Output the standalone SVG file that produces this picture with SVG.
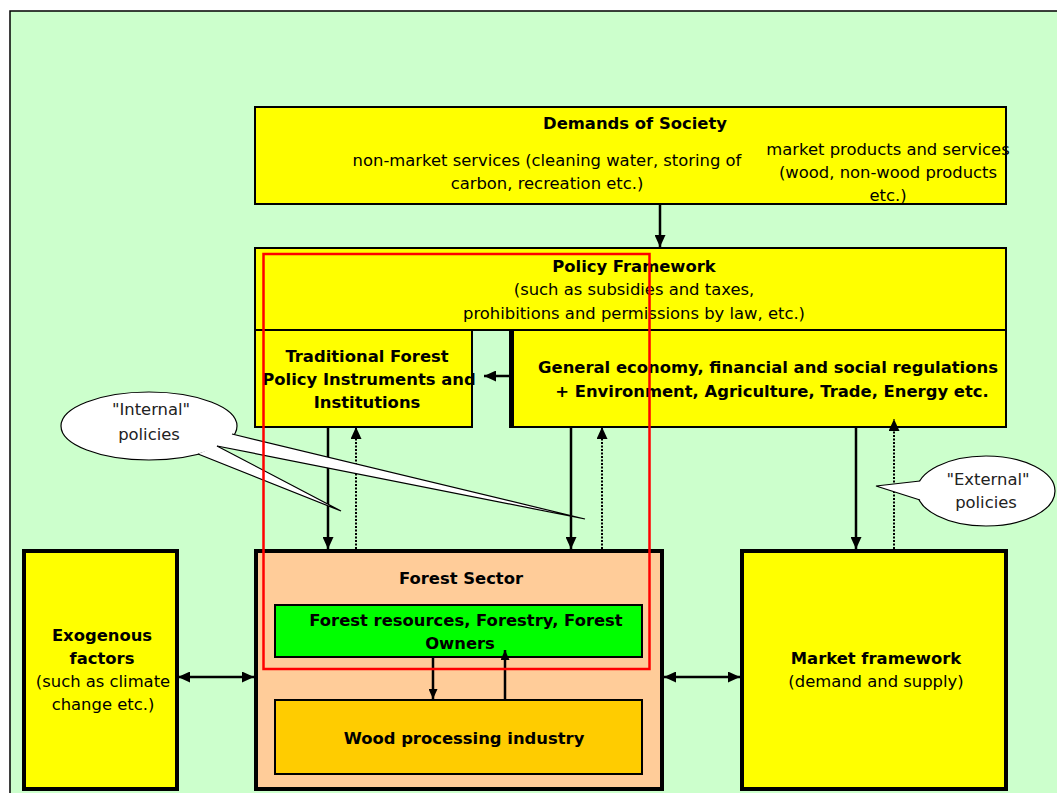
<svg xmlns="http://www.w3.org/2000/svg" width="1057" height="793" viewBox="0 0 1057 793">
<defs>
<style>
text{font-family:"DejaVu Sans","Liberation Sans",sans-serif;font-size:16.4px;fill:#000;text-anchor:middle}
.b{font-weight:bold}
.c{fill:#222}
.box{stroke:#000;stroke-width:2}
.thick{stroke:#000;stroke-width:4}
.yel{fill:#FFFF00}
.ln{stroke:#000;stroke-width:2.5;fill:none}
.dot{stroke:#000;stroke-width:2;stroke-dasharray:2 1.5;fill:none}
.co{fill:#fff;stroke:#000;stroke-width:1.2}
</style>
<marker id="ah" viewBox="0 0 12 11" refX="12" refY="5.5" markerUnits="userSpaceOnUse" markerWidth="12" markerHeight="11" orient="auto-start-reverse">
<path d="M0,0 L12,5.5 L0,11 z" fill="#000"/>
</marker>
<marker id="as" viewBox="0 0 10 9" refX="10" refY="4.5" markerUnits="userSpaceOnUse" markerWidth="10" markerHeight="9" orient="auto-start-reverse">
<path d="M0,0 L10,4.5 L0,9 z" fill="#000"/>
</marker>
</defs>
<rect x="0" y="0" width="1057" height="793" fill="#fff"/>
<rect x="10" y="11" width="1060" height="800" fill="#CCFFCC" stroke="#000" stroke-width="1.5"/>

<g id="demands">
<rect class="box yel" x="255" y="107" width="751" height="97"/>
<text class="b" x="635" y="129">Demands of Society</text>
<text x="547" y="166">non-market services (cleaning water, storing of</text>
<text x="547" y="189">carbon, recreation etc.)</text>
<text x="888" y="155">market products and services</text>
<text x="888" y="178">(wood, non-wood products</text>
<text x="888" y="201">etc.)</text>
</g>

<g id="policy">
<rect class="box yel" x="255" y="248" width="751" height="82"/>
<text class="b" x="634" y="272">Policy Framework</text>
<text x="634" y="295">(such as subsidies and taxes,</text>
<text x="634" y="319">prohibitions and permissions by law, etc.)</text>
</g>

<g id="traditional">
<rect class="box yel" x="255" y="330" width="217" height="97"/>
<text class="b" x="367" y="362">Traditional Forest</text>
<text class="b" x="369" y="385">Policy Instruments and</text>
<text class="b" x="367" y="408">Institutions</text>
</g>

<g id="general">
<rect class="box yel" x="511" y="330" width="495" height="97"/>
<line x1="511.5" y1="330" x2="511.5" y2="428" stroke="#000" stroke-width="5"/>
<text class="b" x="768" y="373">General economy, financial and social regulations</text>
<text class="b" x="772" y="397">+ Environment, Agriculture, Trade, Energy etc.</text>
</g>

<g id="exogenous">
<rect class="thick yel" x="24" y="551" width="153" height="238"/>
<text class="b" x="102" y="641">Exogenous</text>
<text class="b" x="102" y="664">factors</text>
<text x="103" y="687">(such as climate</text>
<text x="103" y="710">change etc.)</text>
</g>

<g id="forest-sector">
<rect class="thick" x="256" y="551" width="406" height="238" fill="#FFCC99"/>
<text class="b" x="461" y="584">Forest Sector</text>
</g>

<g id="forest-resources">
<rect class="box" x="275" y="605" width="367" height="52" fill="#00FF00"/>
<text class="b" x="466" y="626">Forest resources, Forestry, Forest</text>
<text class="b" x="460" y="649">Owners</text>
</g>

<g id="wood">
<rect class="box" x="275" y="700" width="367" height="74" fill="#FFCC00"/>
<text class="b" x="464" y="744">Wood processing industry</text>
</g>

<g id="market">
<rect class="thick yel" x="742" y="551" width="264" height="238"/>
<text class="b" x="876" y="664">Market framework</text>
<text x="876" y="687">(demand and supply)</text>
</g>

<g id="connectors">
<line class="ln" x1="660" y1="205" x2="660" y2="247" marker-end="url(#ah)"/>
<line class="ln" x1="509" y1="376" x2="484" y2="376" stroke-width="3" marker-end="url(#ah)"/>
<line class="ln" x1="328" y1="428" x2="328" y2="549" marker-end="url(#ah)"/>
<line class="dot" x1="356" y1="549" x2="356" y2="427" marker-end="url(#ah)"/>
<line class="ln" x1="571" y1="428" x2="571" y2="549" marker-end="url(#ah)"/>
<line class="dot" x1="602" y1="549" x2="602" y2="427" marker-end="url(#ah)"/>
<line class="ln" x1="856" y1="428" x2="856" y2="549" marker-end="url(#ah)"/>
<line class="dot" x1="894" y1="549" x2="894" y2="419" marker-end="url(#ah)"/>
<line class="ln" x1="178" y1="677" x2="254" y2="677" marker-start="url(#ah)" marker-end="url(#ah)"/>
<line class="ln" x1="664" y1="677" x2="740" y2="677" marker-start="url(#ah)" marker-end="url(#ah)"/>
<line class="ln" x1="433" y1="658" x2="433" y2="699" stroke-width="2" marker-end="url(#as)"/>
<line class="ln" x1="505" y1="699" x2="505" y2="650" stroke-width="2" marker-end="url(#as)"/>
</g>

<g id="internal-callout">
<ellipse class="co" cx="149" cy="426" rx="88" ry="34"/>
<path class="co" d="M198,454 L341,511 L217,446"/>
<path class="co" d="M217,446 L585,519 L232,434"/>
<text class="c" x="151" y="415">"Internal"</text>
<text class="c" x="149" y="440">policies</text>
</g>

<g id="external-callout">
<ellipse class="co" cx="986" cy="491" rx="69" ry="35"/>
<path class="co" d="M920,481 L876,486 L920,500"/>
<text class="c" x="988" y="485">"External"</text>
<text class="c" x="986" y="508">policies</text>
</g>

<rect x="263.5" y="254" width="386" height="415" fill="none" stroke="#FF0000" stroke-width="2.5"/>
</svg>
